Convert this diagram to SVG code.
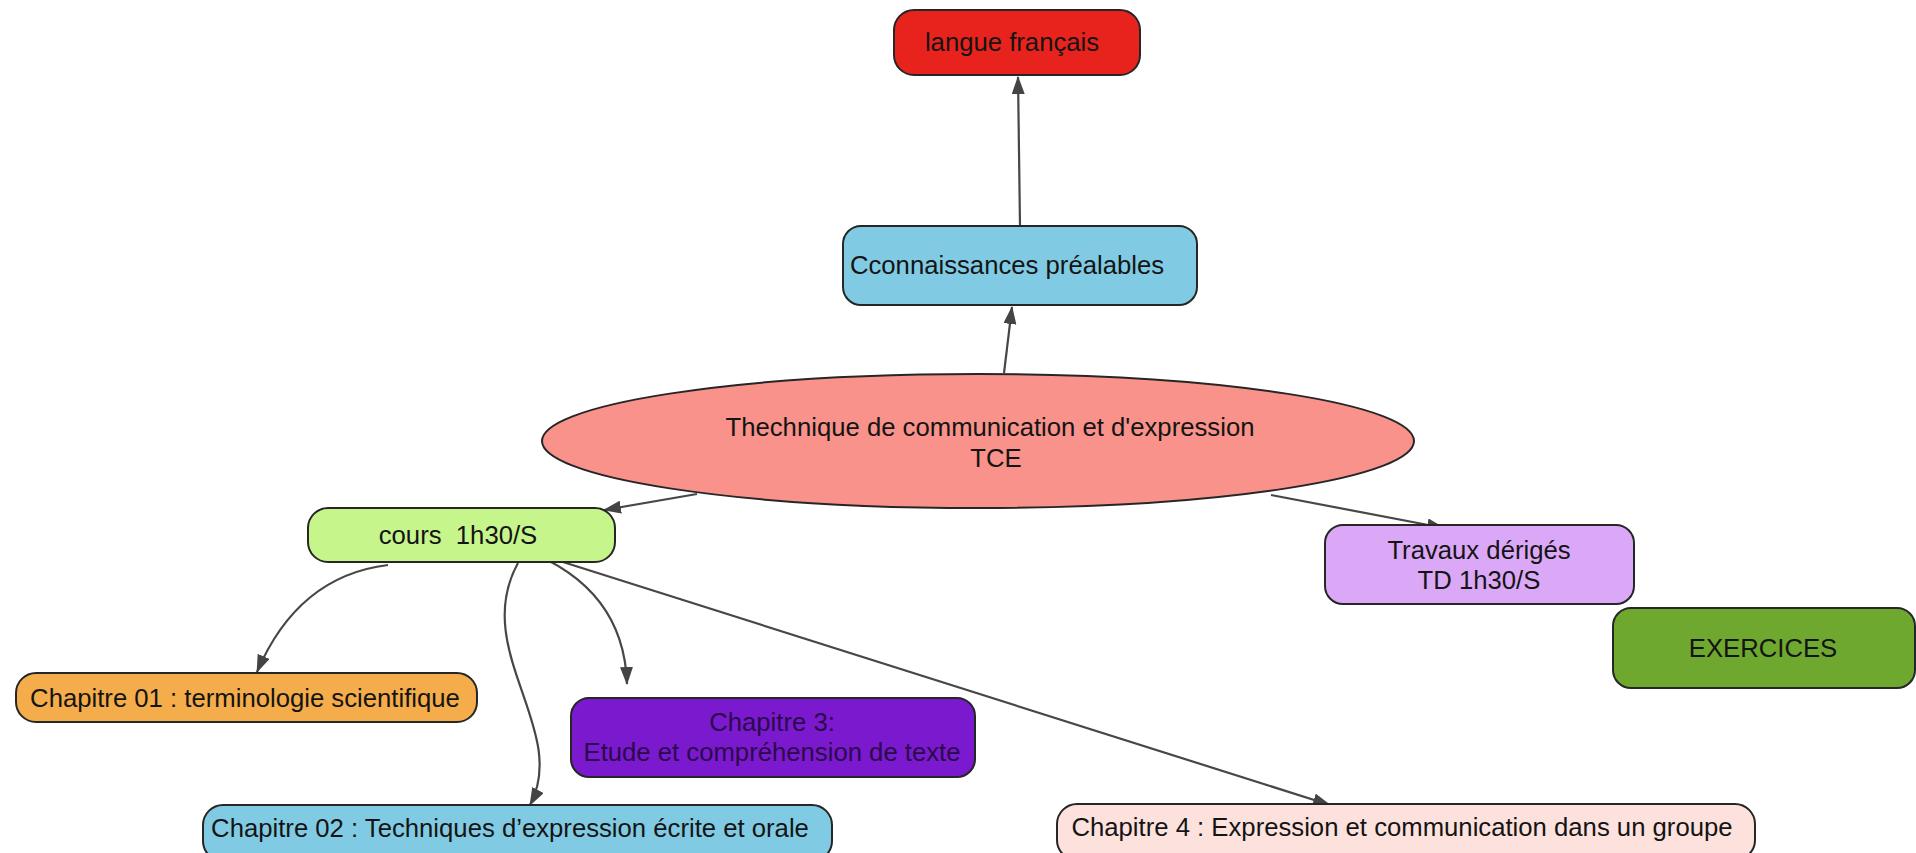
<svg xmlns="http://www.w3.org/2000/svg" width="1916" height="853" viewBox="0 0 1916 853">
<style>
.box{stroke:#262626;stroke-width:2}
.t{font-family:"Liberation Sans",Arial,sans-serif;font-size:25.7px;fill:#141414;text-anchor:middle}
.c{fill:none;stroke:#474747;stroke-width:2.2}
</style>
<defs>
<marker id="arr" viewBox="0 0 18 13" refX="17" refY="6.5" markerWidth="18" markerHeight="13" markerUnits="userSpaceOnUse" orient="auto">
<path d="M0,0 L18,6.5 L0,13 Z" fill="#444"/>
</marker>
</defs>
<rect width="1916" height="853" fill="#ffffff"/>
<g id="connectors">
<path class="c" d="M1020,226 L1018,77" marker-end="url(#arr)"/>
<path class="c" d="M1004,373 L1012,307" marker-end="url(#arr)"/>
<path class="c" d="M697,494 L604,510" marker-end="url(#arr)"/>
<path class="c" d="M1271,495 L1444,528" marker-end="url(#arr)"/>
<path class="c" d="M388,565 Q298,576 257,672" marker-end="url(#arr)"/>
<path class="c" d="M518,563 C470,650 570,730 530,805" marker-end="url(#arr)"/>
<path class="c" d="M525,550 C590,575 625,620 627,684" marker-end="url(#arr)"/>
<path class="c" d="M525,550 L1330,805" marker-end="url(#arr)"/>
</g>
<g id="langue">
<rect class="box" x="894" y="10" width="246" height="65" rx="20" fill="#e8231d"/>
<text class="t" x="1012" y="51">langue français</text>
</g>
<g id="prealables">
<rect class="box" x="843" y="226" width="354" height="79" rx="18" fill="#80cbe3"/>
<text class="t" x="1007" y="274">Cconnaissances préalables</text>
</g>
<g id="tce">
<ellipse class="box" cx="978" cy="441" rx="436" ry="67" fill="#f9928a"/>
<text class="t" x="990" y="436">Thechnique de communication et d'expression</text>
<text class="t" x="996" y="467">TCE</text>
</g>
<g id="cours">
<rect class="box" x="308" y="508" width="307" height="54" rx="20" fill="#c6f58c"/>
<text class="t" x="458" y="544" xml:space="preserve">cours  1h30/S</text>
</g>
<g id="travaux">
<rect class="box" x="1325" y="525" width="309" height="79" rx="18" fill="#dba8f7"/>
<text class="t" x="1479" y="559">Travaux dérigés</text>
<text class="t" x="1479" y="589">TD 1h30/S</text>
</g>
<g id="exercices">
<rect class="box" x="1613" y="608" width="302" height="80" rx="18" fill="#6fa82f"/>
<text class="t" x="1763" y="657">EXERCICES</text>
</g>
<g id="chap01">
<rect class="box" x="16" y="673" width="461" height="49" rx="20" fill="#f5ac4a"/>
<text class="t" x="245" y="707">Chapitre 01 : terminologie scientifique</text>
</g>
<g id="chap3">
<rect class="box" x="571" y="698" width="404" height="79" rx="18" fill="#7b19cf"/>
<text class="t" x="772" y="731" style="fill:#2a0a4a">Chapitre 3:</text>
<text class="t" x="772" y="761" style="fill:#2a0a4a">Etude et compréhension de texte</text>
</g>
<g id="chap02">
<rect class="box" x="203" y="805" width="629" height="56" rx="20" fill="#80cbe3"/>
<text class="t" x="510" y="837">Chapitre 02 : Techniques d’expression écrite et orale</text>
</g>
<g id="chap4">
<rect class="box" x="1057" y="804" width="698" height="56" rx="20" fill="#fde1dd"/>
<text class="t" x="1402" y="836">Chapitre 4 : Expression et communication dans un groupe</text>
</g>
</svg>
